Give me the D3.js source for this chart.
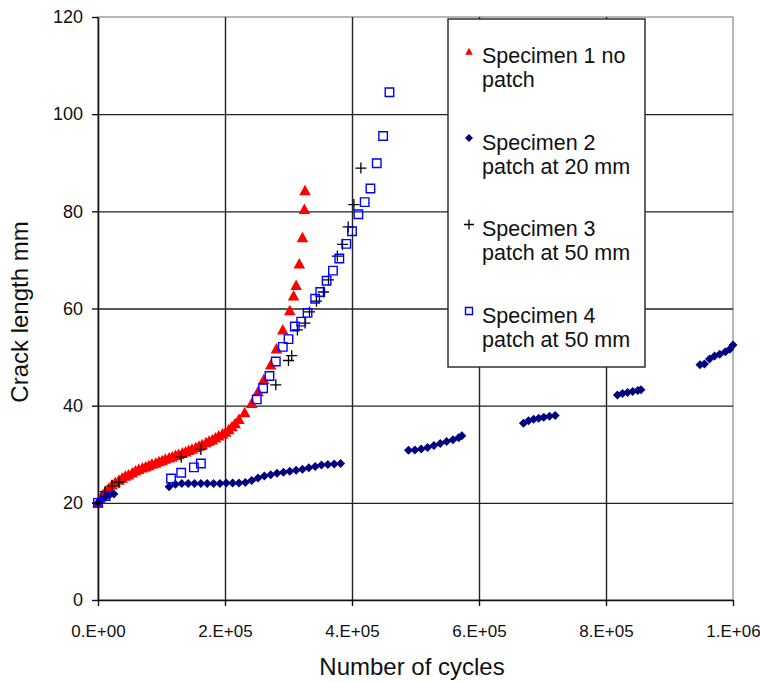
<!DOCTYPE html>
<html>
<head>
<meta charset="utf-8">
<script src="https://cdn.jsdelivr.net/npm/d3@7"></script>
<style>
  body { margin: 0; background: #fff; }
  #grafico { width: 760px; height: 682px; }
  text { font-family: "Liberation Sans", Arial, sans-serif; fill: #111; }
</style>
</head>
<body>
<div id="grafico"></div>
<script>
// specimen 1 - no patch
var s1_ciclos = [0, 4000, 8000, 12000, 17000, 22000, 27000, 33000, 38000, 43000, 48000, 54000, 59000, 64000, 70000, 75000, 80000, 85000, 91000, 96000, 101000, 106000, 112000, 117000, 122000, 127000, 133000, 138000, 143000, 148000, 154000, 159000, 164000, 170000, 175000, 180000, 185000, 190000, 196000, 201000, 206000, 211000, 216000, 222000, 231000, 242000, 252000, 261000, 272000, 281000, 291000, 302000, 308000, 312000, 317000, 322000, 325000, 326000];
var s1_trinca = [20.0, 21.0, 21.7, 22.4, 23.0, 23.7, 24.2, 24.7, 25.1, 25.5, 25.8, 26.2, 26.6, 26.9, 27.2, 27.4, 27.7, 28.0, 28.2, 28.5, 28.7, 29.0, 29.3, 29.5, 29.8, 30.0, 30.3, 30.5, 30.8, 31.1, 31.4, 31.7, 32.0, 32.4, 32.7, 33.0, 33.4, 33.8, 34.2, 34.6, 35.1, 35.7, 36.3, 37.2, 38.6, 40.5, 42.9, 45.4, 48.4, 51.7, 55.6, 59.6, 62.6, 64.8, 69.2, 74.6, 80.4, 84.3];

// specimen 2 - patch at 20 mm
var s2_ciclos = [0, 6000, 12000, 18000, 25000,
  112000, 122000, 132000, 142000, 152000, 162000, 172000, 182000, 192000, 202000, 212000, 222000, 232000, 242000, 252000, 262000, 272000, 282000, 292000, 302000, 312000, 322000, 332000, 342000, 352000, 362000, 372000, 382000,
  489000, 499000, 509000, 519000, 529000, 539000, 549000, 559000, 568000, 573000,
  670000, 678000, 686000, 694000, 702000, 711000, 720000,
  818000, 826000, 834000, 842000, 850000, 855000,
  948000, 955000, 963000, 971000, 979000, 988000, 995000, 1000000];
var s2_trinca = [20.0, 20.8, 21.3, 21.6, 21.8,
  23.3, 23.8, 24.0, 24.0, 24.0, 24.0, 24.0, 24.0, 24.0, 24.1, 24.1, 24.1, 24.2, 24.6, 25.1, 25.5, 25.8, 26.1, 26.3, 26.5, 26.7, 26.9, 27.2, 27.5, 27.8, 27.9, 28.0, 28.1,
  30.8, 30.9, 31.1, 31.4, 31.8, 32.2, 32.6, 33.0, 33.4, 33.8,
  36.4, 36.9, 37.2, 37.4, 37.6, 37.8, 38.0,
  42.2, 42.5, 42.7, 42.9, 43.1, 43.3,
  48.4, 48.6, 49.6, 50.2, 50.6, 51.1, 51.6, 52.5];

// specimen 3 - patch at 50 mm
var s3_ciclos = [0, 11000, 22000, 33000, 131000, 162000, 280000, 300000, 305000, 314000, 326000, 333000, 344000, 355000, 363000, 377000, 385000, 394000, 403000, 414000];
var s3_trinca = [20.0, 22.3, 23.5, 24.2, 29.4, 31.0, 44.3, 49.3, 50.3, 55.6, 57.0, 59.3, 61.5, 63.4, 65.9, 70.8, 73.2, 76.8, 81.4, 88.9];

// specimen 4 - patch at 50 mm
var s4_ciclos = [0, 12000, 115000, 131000, 151000, 162000, 250000, 260000, 270000, 280000, 291000, 300000, 310000, 320000, 330000, 342000, 350000, 360000, 370000, 380000, 391000, 400000, 410000, 420000, 429000, 439000, 449000, 459000];
var s4_trinca = [20.0, 21.4, 25.0, 26.2, 27.3, 28.1, 41.3, 43.6, 46.1, 49.1, 52.1, 53.7, 56.3, 57.3, 59.1, 62.0, 63.4, 65.7, 67.8, 70.3, 73.3, 75.9, 79.4, 81.9, 84.7, 89.9, 95.5, 104.5];

var ticks_x = [0, 200000, 400000, 600000, 800000, 1000000];
var rotulos_x = ["0.E+00", "2.E+05", "4.E+05", "6.E+05", "8.E+05", "1.E+06"];
var ticks_y = [0, 20, 40, 60, 80, 100, 120];

var legenda = [
  ["Specimen 1 no", "patch"],
  ["Specimen 2", "patch at 20 mm"],
  ["Specimen 3", "patch at 50 mm"],
  ["Specimen 4", "patch at 50 mm"]
];

function junta(cx, cy) {
  return cx.map(function(c, i) { return {ciclos: c, trinca: cy[i]}; });
}

// marker shapes
function tri(s) { return "M0," + (-s * 0.55) + "L" + (s * 0.55) + "," + (s * 0.45) + "L" + (-s * 0.55) + "," + (s * 0.45) + "Z"; }
function losango(s) { var h = s / 2; return "M0," + (-h) + "L" + h + ",0L0," + h + "L" + (-h) + ",0Z"; }
function cruz(s) { var h = s / 2; return "M" + (-h) + ",0H" + h + "M0," + (-h) + "V" + h; }
function quadrado(s) { var h = s / 2; return "M" + (-h) + "," + (-h) + "H" + h + "V" + h + "H" + (-h) + "Z"; }

var series = [
  {data: junta(s1_ciclos, s1_trinca), d: tri(10.5), fill: "#ff0000", stroke: "none", sw: 0, ld: tri(7)},
  {data: junta(s2_ciclos, s2_trinca), d: losango(9), fill: "#000080", stroke: "none", sw: 0, ld: losango(8)},
  {data: junta(s3_ciclos, s3_trinca), d: cruz(11), fill: "none", stroke: "#000", sw: 1.3, ld: cruz(10)},
  {data: junta(s4_ciclos, s4_trinca), d: quadrado(8.5), fill: "none", stroke: "#0000ff", sw: 1.4, ld: quadrado(7)}
];

function monta_grafico() {
  var margin = {top: 17, right: 27, bottom: 82, left: 98},
      width = 760 - margin.left - margin.right,
      height = 682 - margin.top - margin.bottom;

  var x = d3.scaleLinear().domain([0, 1000000]).range([0, width]);
  var y = d3.scaleLinear().domain([0, 120]).range([height, 0]);

  var svg = d3.select("#grafico").append("svg")
      .attr("width", 760)
      .attr("height", 682)
    .append("g")
      .attr("transform", "translate(" + margin.left + "," + margin.top + ")");

  // plot border (top / right grey)
  svg.append("rect")
      .attr("x", 0).attr("y", 0)
      .attr("width", width).attr("height", height)
      .style("fill", "none")
      .style("stroke", "#a0a0a0")
      .style("stroke-width", 1.5);

  // gridlines
  svg.append("g")
      .attr("class", "grid")
      .call(d3.axisLeft(y).tickValues(ticks_y.slice(1, -1)).tickSize(-width).tickFormat(""))
      .call(function(g) { g.select(".domain").remove(); })
      .selectAll("line").style("stroke", "#222").style("stroke-width", 1.4);

  svg.append("g")
      .attr("class", "grid")
      .attr("transform", "translate(0," + height + ")")
      .call(d3.axisBottom(x).tickValues(ticks_x.slice(1, -1)).tickSize(-height).tickFormat(""))
      .call(function(g) { g.select(".domain").remove(); })
      .selectAll("line").style("stroke", "#222").style("stroke-width", 1.4);

  // axes
  var eixoY = svg.append("g")
      .call(d3.axisLeft(y).tickValues(ticks_y).tickSize(6).tickPadding(9).tickSizeOuter(0));
  var eixoX = svg.append("g")
      .attr("transform", "translate(0," + height + ")")
      .call(d3.axisBottom(x).tickValues(ticks_x).tickSize(6).tickPadding(19).tickSizeOuter(0)
            .tickFormat(function(d, i) { return rotulos_x[i]; }));

  [eixoY, eixoX].forEach(function(g) {
    g.select(".domain").style("stroke", "#111").style("stroke-width", 1.6);
    g.selectAll(".tick line").style("stroke", "#111").style("stroke-width", 1.4);
    g.selectAll("text").style("font-size", "18px").style("fill", "#111")
      .style("font-family", "'Liberation Sans', Arial, sans-serif");
  });
  eixoX.selectAll("text").style("font-size", "17px");

  // series
  series.forEach(function(s) {
    svg.append("g").selectAll("path")
        .data(s.data)
      .enter().append("path")
        .attr("transform", function(d) { return "translate(" + x(d.ciclos) + "," + y(d.trinca) + ")"; })
        .attr("d", s.d)
        .style("fill", s.fill)
        .style("stroke", s.stroke)
        .style("stroke-width", s.sw);
  });

  // legend
  var leg = svg.append("g").attr("transform", "translate(" + (448 - margin.left) + "," + (19 - margin.top) + ")");
  leg.append("rect")
      .attr("width", 197).attr("height", 348)
      .style("fill", "#fff").style("stroke", "#222").style("stroke-width", 1.4);
  legenda.forEach(function(l, i) {
    var g = leg.append("g").attr("transform", "translate(0," + (i * 86.5) + ")");
    g.append("path")
        .attr("transform", "translate(21," + (32.5) + ")")
        .attr("d", series[i].ld)
        .style("fill", series[i].fill)
        .style("stroke", series[i].stroke)
        .style("stroke-width", series[i].sw);
    g.append("text").attr("x", 34).attr("y", 44).style("font-size", "21.5px").text(l[0]);
    g.append("text").attr("x", 34).attr("y", 68).style("font-size", "21.5px").text(l[1]);
  });

  // axis titles
  svg.append("text")
      .attr("transform", "translate(" + (28 - margin.left) + "," + (312 - margin.top) + ") rotate(-90)")
      .attr("text-anchor", "middle")
      .style("font-size", "24px")
      .text("Crack length mm");

  svg.append("text")
      .attr("x", 412 - margin.left)
      .attr("y", 675 - margin.top)
      .attr("text-anchor", "middle")
      .style("font-size", "24px")
      .text("Number of cycles");
}

monta_grafico();
</script>
</body>
</html>
